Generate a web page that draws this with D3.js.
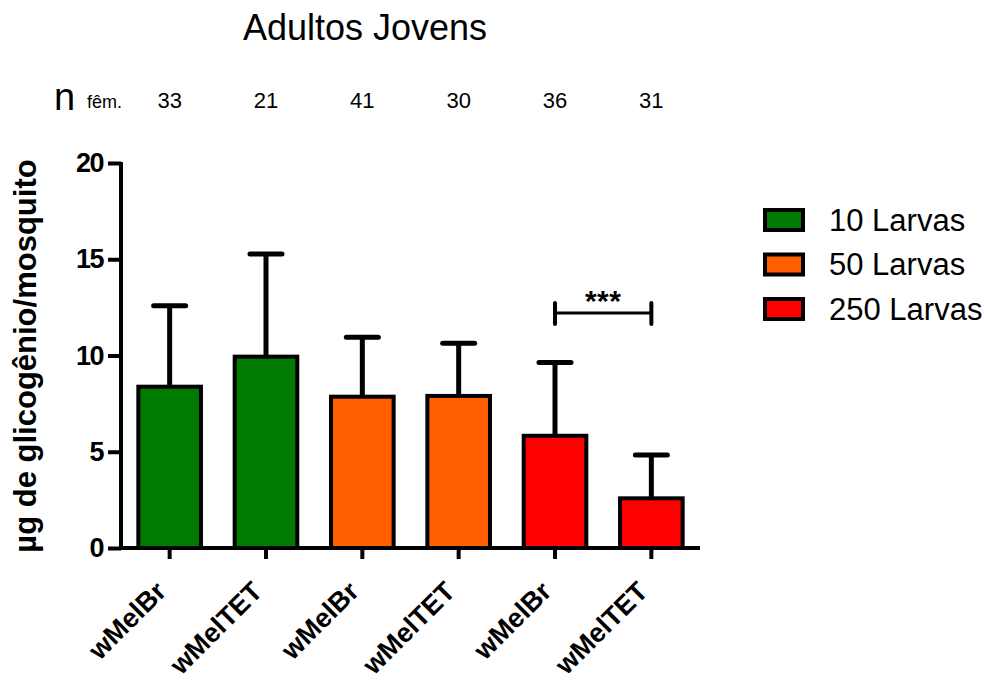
<!DOCTYPE html>
<html><head><meta charset="utf-8">
<script src="https://cdn.jsdelivr.net/npm/d3@7"></script>
<style>body{margin:0;background:#fff}svg{display:block}text{font-family:"Liberation Sans",Arial,sans-serif}</style>
</head><body><svg id="c" width="984" height="682"></svg>
<script>
const categories = ["wMelBr","wMelTET","wMelBr","wMelTET","wMelBr","wMelTET"];
const groups = ["10 Larvas","10 Larvas","50 Larvas","50 Larvas","250 Larvas","250 Larvas"];
const means = [8.38, 9.94, 7.86, 7.90, 5.83, 2.58];
const sds = [4.21, 5.33, 3.09, 2.73, 3.80, 2.25];
const nFem = [33, 21, 41, 30, 36, 31];
const legendLabels = ["10 Larvas","50 Larvas","250 Larvas"];
const legendColors = ["#007A00","#FF5F00","#FF0000"];
const yTicks = [0,5,10,15,20];

const svg = d3.select("#c");
const color = d3.scaleOrdinal().domain(legendLabels).range(legendColors);
const x = d3.scaleBand().domain(d3.range(categories.length)).range([121,700]).paddingInner(0.35).paddingOuter(0.18);
const y = d3.scaleLinear().domain([0,20]).range([548,163]);

// title
svg.append("text").attr("x",365).attr("y",40).attr("text-anchor","middle").attr("font-size",36).text("Adultos Jovens");
// n row
svg.append("text").attr("x",54).attr("y",110).attr("font-size",38).text("n");
svg.append("text").attr("x",87).attr("y",108).attr("font-size",18).text("fêm.");
svg.selectAll(".nn").data(nFem).enter().append("text")
  .attr("x",(d,i)=>x(i)+x.bandwidth()/2).attr("y",108).attr("text-anchor","middle").attr("font-size",22).text(d=>d);

// bars
const g = svg.append("g");
g.selectAll("rect.bar").data(means).enter().append("rect")
  .attr("x",(d,i)=>x(i)).attr("width",x.bandwidth())
  .attr("y",d=>y(d)).attr("height",d=>y(0)-y(d))
  .attr("fill",(d,i)=>color(groups[i])).attr("stroke","#000").attr("stroke-width",4);
// error bars
const cx = i=>x(i)+x.bandwidth()/2;
g.selectAll("line.err").data(means).enter().append("line")
  .attr("x1",(d,i)=>cx(i)).attr("x2",(d,i)=>cx(i))
  .attr("y1",d=>y(d)).attr("y2",(d,i)=>y(d+sds[i]))
  .attr("stroke","#000").attr("stroke-width",5);
g.selectAll("line.cap").data(means).enter().append("line")
  .attr("x1",(d,i)=>cx(i)-16).attr("x2",(d,i)=>cx(i)+16)
  .attr("y1",(d,i)=>y(d+sds[i])).attr("y2",(d,i)=>y(d+sds[i]))
  .attr("stroke","#000").attr("stroke-width",5).attr("stroke-linecap","round");

// y axis
const yAxis = svg.append("g").attr("transform","translate(121,0)")
  .call(d3.axisLeft(y).tickValues(yTicks).tickSize(13).tickPadding(5));
yAxis.select(".domain").attr("stroke-width",4).attr("d","M0,"+(y(20)-1)+"V"+(y(0)+2));
yAxis.selectAll(".tick line").attr("stroke-width",4);
yAxis.selectAll(".tick text").attr("font-size",27).attr("font-weight","bold").attr("fill","#000")
  .attr("font-family","Liberation Sans, Arial, sans-serif").attr("letter-spacing","-1.5");

// x axis
const xAxis = svg.append("g").attr("transform","translate(0,548)")
  .call(d3.axisBottom(x).tickSize(11).tickFormat(""));
xAxis.select(".domain").attr("stroke-width",4).attr("d","M119,0H700");
xAxis.selectAll(".tick line").attr("stroke-width",4);
svg.selectAll(".xl").data(categories).enter().append("text")
  .attr("transform",(d,i)=>`translate(${cx(i)-2},593) rotate(-45)`)
  .attr("text-anchor","end").attr("font-size",27).attr("font-weight","bold").text(d=>d);

// y label
svg.append("text").attr("transform","translate(36,356) rotate(-90)").attr("text-anchor","middle")
  .attr("font-size",31).attr("font-weight","bold").text("µg de glicogênio/mosquito");

// significance
const s1 = cx(4), s2 = cx(5), sy = 313;
svg.append("line").attr("x1",s1).attr("x2",s2).attr("y1",sy).attr("y2",sy).attr("stroke","#000").attr("stroke-width",3);
[s1,s2].forEach(v=>svg.append("line").attr("x1",v).attr("x2",v).attr("y1",sy-10).attr("y2",sy+11).attr("stroke","#000").attr("stroke-width",4).attr("stroke-linecap","round"));
svg.append("text").attr("x",(s1+s2)/2).attr("y",311).attr("text-anchor","middle").attr("font-size",30).attr("font-weight","bold").attr("letter-spacing","0.5").text("***");

// legend
const lg = svg.append("g");
legendLabels.forEach((l,i)=>{
  const yy = 210 + i*44.5;
  lg.append("rect").attr("x",765).attr("y",yy).attr("width",38).attr("height",20)
    .attr("fill",legendColors[i]).attr("stroke","#000").attr("stroke-width",4);
  lg.append("text").attr("x",829).attr("y",yy+20.5).attr("font-size",31).text(l);
});
</script></body></html>
